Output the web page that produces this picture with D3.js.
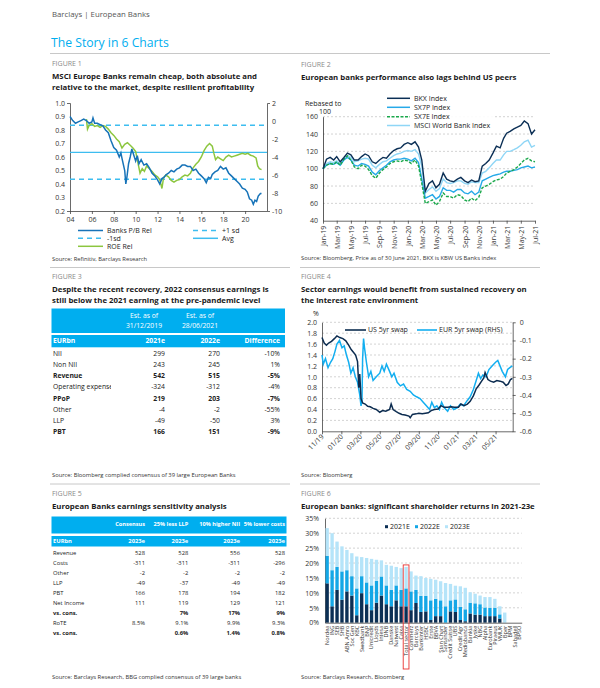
<!DOCTYPE html>
<html>
<head>
  <meta charset="utf-8">
  <title>Barclays | European Banks - The Story in 6 Charts</title>
  <script src="https://cdn.jsdelivr.net/npm/d3@7"></script>
  <style>
    body {margin: 0; background: #fff;}
    svg  {font-family: "Open Sans", Lato, "DejaVu Sans", sans-serif;}
  </style>
</head>
<body>
<svg id="page" width="600" height="688"></svg>
<script>
// ---------- Figure 1: MSCI Europe Banks P/B rel and ROE rel ----------
const pbYears = [2004.00,2004.25,2004.50,2004.75,2005.00,2005.25,2005.50,2005.75,2006.00,2006.10,2006.25,2006.50,2006.75,2007.00,2007.25,2007.50,2007.75,2008.00,2008.25,2008.50,2008.65,2008.75,2009.00,2009.10,2009.20,2009.35,2009.50,2009.65,2009.80,2010.00,2010.15,2010.30,2010.50,2010.75,2011.00,2011.25,2011.50,2011.75,2012.00,2012.20,2012.40,2012.60,2012.80,2013.00,2013.25,2013.50,2013.75,2014.00,2014.25,2014.50,2014.75,2015.00,2015.25,2015.50,2015.75,2016.00,2016.25,2016.45,2016.65,2016.85,2017.00,2017.25,2017.50,2017.75,2018.00,2018.25,2018.50,2018.75,2019.00,2019.25,2019.50,2019.75,2020.00,2020.20,2020.40,2020.60,2020.75,2020.90,2021.05,2021.20,2021.40,2021.50];
const pbRel   = [0.90,0.87,0.85,0.86,0.87,0.88,0.87,0.85,0.86,0.89,0.85,0.85,0.84,0.83,0.80,0.78,0.72,0.67,0.65,0.60,0.63,0.59,0.50,0.40,0.45,0.55,0.60,0.66,0.62,0.57,0.61,0.55,0.58,0.54,0.55,0.52,0.48,0.46,0.43,0.40,0.44,0.45,0.47,0.48,0.50,0.49,0.51,0.52,0.54,0.54,0.53,0.53,0.50,0.51,0.48,0.46,0.44,0.41,0.45,0.44,0.47,0.49,0.50,0.53,0.51,0.52,0.48,0.46,0.44,0.42,0.40,0.37,0.36,0.34,0.29,0.28,0.25,0.28,0.27,0.31,0.33,0.33];
const roeYears = [2005.50,2005.60,2005.75,2006.00,2006.25,2006.50,2006.75,2007.00,2007.25,2007.50,2007.75,2008.00,2008.25,2008.50,2008.75,2009.00,2009.25,2009.50,2009.75,2010.00,2010.20,2010.40,2010.60,2010.80,2011.00,2011.25,2011.50,2011.75,2012.00,2012.20,2012.40,2012.55,2012.75,2013.00,2013.25,2013.50,2013.75,2014.00,2014.25,2014.50,2014.75,2015.00,2015.25,2015.50,2015.75,2016.00,2016.25,2016.50,2016.75,2017.00,2017.15,2017.30,2017.50,2017.75,2018.00,2018.25,2018.50,2018.75,2019.00,2019.25,2019.50,2019.75,2020.00,2020.25,2020.50,2020.75,2021.00,2021.15,2021.30,2021.50];
const roeRel   = [0.2,-0.9,-0.5,-0.3,-0.6,-0.5,-0.7,-0.5,-0.6,-0.9,-1.3,-1.6,-2.0,-2.3,-3.0,-2.6,-2.4,-2.7,-3.0,-3.4,-4.6,-5.8,-5.3,-5.6,-5.0,-5.3,-5.6,-6.0,-6.2,-6.5,-7.5,-6.3,-6.0,-6.2,-6.6,-6.8,-6.6,-6.5,-6.2,-6.0,-6.1,-5.8,-5.2,-4.8,-4.5,-4.0,-3.3,-2.8,-2.5,-2.8,-3.6,-4.3,-4.0,-4.2,-4.4,-4.0,-3.8,-4.0,-3.9,-3.8,-3.7,-3.6,-3.7,-3.6,-3.8,-3.9,-4.1,-5.0,-5.3,-5.4];
const pbAvg = 0.635;
const pbSd = 0.2;

// ---------- Figure 2: performance rebased to 100 (twice-monthly) ----------
const bkx    = [100,111,113,110,114,108,113,118,116,110,110,114,117,115,108,106,110,113,112,117,121,123,124,128,130,128,131,125,110,74,83,86,78,82,95,88,86,85,88,90,86,84,87,85,86,103,106,110,118,126,124,135,141,143,146,148,150,155,152,140,145];
const sx7p   = [100,104,106,105,107,104,110,113,110,104,103,106,105,103,96,93,98,101,104,108,110,111,111,112,111,109,112,107,88,66,68,70,65,68,78,75,75,73,76,76,72,71,74,70,73,86,88,90,92,93,94,96,97,97,98,99,101,102,103,101,102];
const sx7e   = [100,104,106,105,108,104,111,115,110,102,100,104,103,99,92,89,95,99,102,106,108,109,108,110,109,106,110,103,83,60,62,64,58,62,72,68,68,66,70,69,64,62,66,63,67,78,80,82,85,87,88,91,95,97,99,102,106,110,112,109,108];
const msciWb = [100,106,108,107,109,106,111,115,113,108,109,111,112,111,104,101,105,108,109,112,115,117,118,120,121,120,122,117,103,72,76,79,74,77,88,84,83,84,86,86,83,82,85,84,84,95,97,101,106,110,110,116,120,120,122,124,127,131,133,125,127];
const fig2Series = ["BKX Index", "SX7P Index", "SX7E Index", "MSCI World Bank Index"];

// ---------- Figure 3: consensus earnings ----------
const t3Rows  = ["NII", "Non NII", "Revenue", "Operating expense", "PPoP", "Other", "LLP", "PBT"];
const t3E2021 = [299, 243, 542, -324, 219, -4, -49, 166];
const t3E2022 = [270, 245, 515, -312, 203, -2, -50, 151];
const t3Diff  = [-10, 1, -5, -4, -7, -55, 3, -9];
const t3Bold  = ["Revenue", "PPoP", "PBT"];

// ---------- Figure 4: swap rates ----------
const usSwap = [["2019-11-01",1.72],["2019-11-08",1.62],["2019-11-15",1.58],["2019-11-22",1.62],["2019-12-01",1.65],["2019-12-10",1.70],["2019-12-18",1.75],["2019-12-27",1.72],["2020-01-06",1.70],["2020-01-15",1.66],["2020-01-24",1.58],["2020-02-01",1.50],["2020-02-08",1.45],["2020-02-15",1.40],["2020-02-21",1.28],["2020-02-25",0.80],["2020-02-28",1.05],["2020-03-03",0.60],["2020-03-08",0.52],["2020-03-16",0.50],["2020-03-24",0.46],["2020-04-01",0.45],["2020-04-10",0.42],["2020-04-20",0.40],["2020-05-01",0.35],["2020-05-10",0.38],["2020-05-20",0.37],["2020-06-01",0.40],["2020-06-06",0.50],["2020-06-12",0.40],["2020-06-22",0.36],["2020-07-01",0.33],["2020-07-10",0.31],["2020-07-20",0.30],["2020-08-01",0.28],["2020-08-05",0.25],["2020-08-12",0.31],["2020-08-24",0.32],["2020-09-01",0.33],["2020-09-12",0.32],["2020-09-22",0.33],["2020-10-01",0.34],["2020-10-10",0.38],["2020-10-20",0.40],["2020-11-01",0.41],["2020-11-10",0.47],["2020-11-20",0.44],["2020-12-01",0.44],["2020-12-12",0.45],["2020-12-22",0.44],["2021-01-04",0.44],["2021-01-12",0.50],["2021-01-22",0.47],["2021-02-01",0.50],["2021-02-10",0.55],["2021-02-20",0.65],["2021-03-01",0.78],["2021-03-10",0.85],["2021-03-18",0.92],["2021-03-25",0.98],["2021-03-29",1.08],["2021-04-07",0.95],["2021-04-15",0.92],["2021-04-25",0.90],["2021-05-05",0.93],["2021-05-15",0.92],["2021-05-25",0.90],["2021-06-03",0.84],["2021-06-10",0.87],["2021-06-17",0.95],["2021-06-23",0.97]];
const eurSwap = [["2019-11-01",-0.18],["2019-11-05",-0.23],["2019-11-12",-0.20],["2019-11-20",-0.25],["2019-11-28",-0.22],["2019-12-05",-0.20],["2019-12-12",-0.16],["2019-12-18",-0.12],["2019-12-26",-0.10],["2020-01-03",-0.14],["2020-01-10",-0.13],["2020-01-17",-0.18],["2020-01-24",-0.22],["2020-01-31",-0.28],["2020-02-07",-0.25],["2020-02-14",-0.30],["2020-02-21",-0.33],["2020-02-28",-0.40],["2020-03-03",-0.46],["2020-03-06",-0.43],["2020-03-08",-0.20],["2020-03-11",-0.09],["2020-03-14",-0.14],["2020-03-20",-0.22],["2020-03-27",-0.30],["2020-04-03",-0.27],["2020-04-10",-0.32],["2020-04-20",-0.30],["2020-05-01",-0.28],["2020-05-08",-0.24],["2020-05-15",-0.27],["2020-05-22",-0.23],["2020-06-01",-0.27],["2020-06-08",-0.30],["2020-06-15",-0.28],["2020-06-25",-0.33],["2020-07-05",-0.35],["2020-07-15",-0.34],["2020-07-25",-0.37],["2020-08-05",-0.38],["2020-08-15",-0.40],["2020-08-25",-0.41],["2020-09-05",-0.42],["2020-09-15",-0.44],["2020-09-25",-0.46],["2020-10-05",-0.48],["2020-10-12",-0.44],["2020-10-20",-0.47],["2020-10-28",-0.46],["2020-11-05",-0.48],["2020-11-12",-0.44],["2020-11-20",-0.47],["2020-12-01",-0.49],["2020-12-10",-0.46],["2020-12-20",-0.48],["2021-01-01",-0.47],["2021-01-10",-0.45],["2021-01-20",-0.46],["2021-02-01",-0.43],["2021-02-10",-0.41],["2021-02-20",-0.37],["2021-03-01",-0.32],["2021-03-08",-0.28],["2021-03-15",-0.31],["2021-03-22",-0.29],["2021-04-01",-0.30],["2021-04-10",-0.26],["2021-04-20",-0.24],["2021-05-01",-0.22],["2021-05-08",-0.21],["2021-05-15",-0.24],["2021-05-22",-0.27],["2021-06-01",-0.30],["2021-06-08",-0.26],["2021-06-15",-0.25],["2021-06-23",-0.24]];

// ---------- Figure 5: sensitivity table ----------
const t5Rows   = ["Revenue", "Costs", "Other", "LLP", "PBT", "Net Income", "vs. cons.", "RoTE", "vs. cons."];
const t5Heads  = ["Consensus", "25% less LLP", "10% higher NII", "5% lower costs"];
const t5Cons   = ["528", "-311", "-2", "-49", "166", "111", "", "8.5%", ""];
const t5Llp    = ["528", "-311", "-2", "-37", "178", "119", "7%", "9.1%", "0.6%"];
const t5Nii    = ["556", "-311", "-2", "-49", "194", "129", "17%", "9.9%", "1.4%"];
const t5Costs  = ["528", "-296", "-2", "-49", "182", "121", "9%", "9.3%", "0.8%"];

// ---------- Figure 6: shareholder returns ----------
const banks = ["Nordea","ING","SEB","SHB","ABN Amro","Soc Gen","KBC","Swedbank","BNP","Unicredit","Lloyds","Intesa","DNB","Danske","Natwest","Caixa","Total sector","Commerz","Barclays","Bankinter","HSBC","Erste","BBVA","Stan Chart","Santander","Credit Suisse","UBS","Credit Agr","Mediobanca","Bankia","Jyske","NBG","Alpha","Eurobank","Piraeus","VMUK","Bper","BPM","Sabadell","BPSO"];
const ret2021 = [13.2,5.5,11.0,7.7,10.5,9.1,2.5,9.9,6.2,4.2,6.7,9.1,6.2,5.5,7.5,5.5,5.5,4.2,6.6,3.6,3.8,0.9,2.2,2.2,0,3.8,3.6,0.9,0.5,3.1,2.7,2.7,2.2,2.2,2.2,1.4,0,0,0,0];
const ret2022 = [9.2,12.1,7.7,9.5,7.1,6.5,9.0,5.7,7.3,8.3,7.3,6.4,6.3,5.5,5.0,5.5,6.0,6.3,4.4,5.4,5.2,6.6,5.8,5.3,5.5,3.7,4.2,4.4,4.0,3.6,3.8,3.5,2.9,2.8,2.8,1.4,0,0,0,0];
const ret2023 = [9.3,12.4,8.5,8.4,6.8,7.7,10.7,6.4,8.2,8.9,7.1,5.4,6.9,8.1,6.2,7.3,7.2,6.7,4.8,6.6,6.0,7.2,6.4,6.4,7.8,5.5,4.6,6.9,7.2,3.5,3.2,2.9,3.5,3.6,3.0,2.7,3.4,0,0,0];

// ---------- page ----------
const BLUE = "#00aeef", NAVY = "#0b2f55";
const svg = d3.select("#page");
svg.append("rect").attr("width", 600).attr("height", 688).attr("fill", "#fff");

function text(g, x, y, s, o = {}) {
  return g.append("text")
    .attr("x", x).attr("y", y)
    .attr("dy", "0.35em")
    .attr("font-size", o.size || 7)
    .attr("fill", o.fill || "#222")
    .attr("font-weight", o.bold ? "bold" : null)
    .attr("text-anchor", o.anchor || "start")
    .text(s);
}
function hline(g, x1, x2, y, color, width, dash) {
  return g.append("line").attr("x1", x1).attr("x2", x2).attr("y1", y).attr("y2", y)
    .attr("stroke", color).attr("stroke-width", width || 1)
    .attr("stroke-dasharray", dash || null);
}
function styleAxis(g, size) {
  g.attr("font-family", null).attr("font-size", size || 7);
  g.selectAll("text").attr("fill", "#333");
  g.selectAll("line, path").attr("stroke", "#444").attr("stroke-width", 0.8);
  return g;
}
function figHead(x, y, num, lines) {
  text(svg, x, y, "FIGURE " + num, {size: 7, fill: "#8a8a8a"});
  lines.forEach((l, i) => text(svg, x, y + 12.5 + i * 11, l, {size: 7.8, bold: true, fill: "#1a1a1a"}));
}
function source(x, y, s) { text(svg, x, y, s, {size: 5.8, fill: "#333"}); }
const hyph = d => String(d).replace("\u2212", "-");

// header
text(svg, 52, 14.5, "Barclays | European Banks", {size: 7.8, fill: "#555"});
text(svg, 51, 42.5, "The Story in 6 Charts", {size: 12.2, fill: BLUE});
hline(svg, 50, 550, 53.5, "#c8c8c8", 1);

// dividers
hline(svg, 50, 290, 267.5, "#c8c8c8", 1);
hline(svg, 300, 540, 267.5, "#c8c8c8", 1);
hline(svg, 50, 290, 484, "#c8c8c8", 1);
hline(svg, 300, 540, 484, "#c8c8c8", 1);

// ================= FIGURE 1 =================
figHead(52, 63.5, 1, ["MSCI Europe Banks remain cheap, both absolute and",
                      "relative to the market, despite resilient profitability"]);
{
  const x = d3.scaleLinear().domain([2004, 2022]).range([70, 267]);
  const y = d3.scaleLinear().domain([0.2, 1.0]).range([211, 103]);
  const yr = d3.scaleLinear().domain([-10, 2]).range([211, 103]);

  styleAxis(svg.append("g").attr("transform", "translate(70,0)")
    .call(d3.axisLeft(y).ticks(8).tickFormat(d3.format(".1f")).tickSizeInner(0).tickSizeOuter(3).tickPadding(5)));
  styleAxis(svg.append("g").attr("transform", "translate(267,0)")
    .call(d3.axisRight(yr).ticks(6).tickFormat(d => hyph(d)).tickSizeInner(0).tickSizeOuter(3).tickPadding(5)));
  styleAxis(svg.append("g").attr("transform", "translate(0,211)")
    .call(d3.axisBottom(x).tickValues(d3.range(2004, 2021, 2)).tickFormat(d => String(d).slice(2)).tickSizeInner(3).tickSizeOuter(0).tickPadding(3)));

  const lb = "#3dbdf0";
  hline(svg, 70, 267, y(pbAvg + pbSd), lb, 1.4, "5,4");
  hline(svg, 70, 267, y(pbAvg - pbSd), lb, 1.4, "5,4");
  hline(svg, 70, 267, y(pbAvg), lb, 1.2);

  svg.append("path").datum(roeYears.map((t, i) => [t, roeRel[i]]))
    .attr("d", d3.line().x(d => x(d[0])).y(d => yr(d[1])))
    .attr("fill", "none").attr("stroke", "#8cc63f").attr("stroke-width", 1.5);
  svg.append("path").datum(pbYears.map((t, i) => [t, pbRel[i]]))
    .attr("d", d3.line().x(d => x(d[0])).y(d => y(d[1])))
    .attr("fill", "none").attr("stroke", "#1773b8").attr("stroke-width", 1.5);

  // legend
  const lg = [["Banks P/B Rel", 78, 230.5, "#1773b8", null],
              ["+1 sd", 193, 230.5, lb, "5,4"],
              ["-1sd", 78, 238.3, lb, "5,4"],
              ["Avg", 193, 238.3, lb, null],
              ["ROE Rel", 78, 246.3, "#8cc63f", null]];
  lg.forEach(l => {
    hline(svg, l[1], l[1] + 25, l[2], l[3], 1.5, l[4]);
    text(svg, l[1] + 29, l[2], l[0], {size: 7});
  });
  source(52, 259.3, "Source: Refinitiv, Barclays Research");
}

// ================= FIGURE 2 =================
figHead(301, 64.5, 2, ["European banks performance also lags behind US peers"]);
{
  const dates = d3.range(bkx.length).map(i => new Date(2019, Math.floor(i / 2), i % 2 ? 16 : 1));
  const x = d3.scaleTime().domain([new Date(2019, 0, 1), new Date(2021, 6, 1)]).range([323, 535]);
  const y = d3.scaleLinear().domain([40, 160]).range([220.7, 116.7]);

  d3.range(60, 161, 20).forEach(v => hline(svg, 323, 535, y(v), "#b5b5b5", 0.6, "2,2"));
  const ya = styleAxis(svg.append("g").attr("transform", "translate(323,0)")
    .call(d3.axisLeft(y).tickValues(d3.range(40, 161, 20)).tickSize(0).tickPadding(5)));
  ya.select(".domain").attr("stroke", "#333");
  const xa = styleAxis(svg.append("g").attr("transform", "translate(0,220.7)")
    .call(d3.axisBottom(x).ticks(d3.timeMonth.every(2)).tickFormat(d3.timeFormat("%b-%y")).tickSizeInner(3).tickSizeOuter(0)));
  xa.selectAll("text").attr("transform", "rotate(-90)").attr("text-anchor", "end")
    .attr("x", -5).attr("y", 0).attr("dy", "0.35em");

  text(svg, 305, 103.3, "Rebased to", {size: 7});
  text(svg, 319, 111.7, "100", {size: 7});

  const cols = {"BKX Index": NAVY, "SX7P Index": "#26a9e8", "SX7E Index": "#1aa84b", "MSCI World Bank Index": "#8fd6f6"};
  const vals = {"BKX Index": bkx, "SX7P Index": sx7p, "SX7E Index": sx7e, "MSCI World Bank Index": msciWb};
  const line = d3.line().x((d, i) => x(dates[i])).y(d => y(d));
  ["MSCI World Bank Index", "SX7P Index", "SX7E Index", "BKX Index"].forEach(k => {
    svg.append("path").datum(vals[k]).attr("d", line).attr("fill", "none")
      .attr("stroke", cols[k]).attr("stroke-width", 1.4)
      .attr("stroke-dasharray", k === "SX7E Index" ? "3,1.5" : null);
  });
  const ly = [98.3, 107.3, 116.7, 125.5];
  fig2Series.forEach((k, i) => {
    svg.append("rect").attr("x", 385).attr("y", ly[i] - 4).attr("width", 110).attr("height", 8).attr("fill", "#fff").attr("opacity", i < 2 ? 0 : 0.9);
    hline(svg, 387, 410, ly[i], cols[k], 1.5, k === "SX7E Index" ? "3,1.5" : null);
    text(svg, 414, ly[i], k, {size: 7});
  });
  source(301, 258.3, "Source: Bloomberg, Price as of 30 June 2021, BKX is KBW US Banks index");
}

// ================= FIGURE 3 =================
figHead(52, 276.7, 3, ["Despite the recent recovery, 2022 consensus earnings is",
                       "still below the 2021 earning at the pre-pandemic level"]);
{
  const g = svg.append("g");
  g.append("rect").attr("x", 51.5).attr("y", 308.5).attr("width", 233.5).attr("height", 24.5).attr("fill", BLUE);
  g.append("rect").attr("x", 51.5).attr("y", 335).attr("width", 233.5).attr("height", 12.3).attr("fill", BLUE);
  const colR = [165, 220, 280];
  text(g, 144, 315.5, "Est. as of", {size: 6.8, fill: "#fff", anchor: "middle"});
  text(g, 144, 325.5, "31/12/2019", {size: 6.8, fill: "#fff", anchor: "middle"});
  text(g, 200, 315.5, "Est. as of", {size: 6.8, fill: "#fff", anchor: "middle"});
  text(g, 200, 325.5, "28/06/2021", {size: 6.8, fill: "#fff", anchor: "middle"});
  text(g, 53, 341, "EURbn", {size: 6.8, fill: "#fff", bold: true});
  text(g, colR[0], 341, "2021e", {size: 6.8, fill: "#fff", bold: true, anchor: "end"});
  text(g, colR[1], 341, "2022e", {size: 6.8, fill: "#fff", bold: true, anchor: "end"});
  text(g, colR[2], 341, "Difference", {size: 6.8, fill: "#fff", bold: true, anchor: "end"});

  svg.append("clipPath").attr("id", "c3").append("rect").attr("x", 50).attr("y", 340).attr("width", 61).attr("height", 100);
  t3Rows.forEach((r, i) => {
    const yy = 353.5 + i * 11.17;
    const b = t3Bold.includes(r);
    text(g, 53, yy, r, {size: 6.8, bold: b}).attr("clip-path", "url(#c3)");
    text(g, colR[0], yy, String(t3E2021[i]), {size: 6.8, bold: b, anchor: "end"});
    text(g, colR[1], yy, String(t3E2022[i]), {size: 6.8, bold: b, anchor: "end"});
    text(g, colR[2], yy, t3Diff[i] + "%", {size: 6.8, bold: b, anchor: "end"});
  });
  source(52, 475, "Source: Bloomberg complied consensus of 39 large European Banks");
}

// ================= FIGURE 4 =================
figHead(301, 276.7, 4, ["Sector earnings would benefit from sustained recovery on",
                        "the interest rate environment"]);
{
  const parse = d3.timeParse("%Y-%m-%d");
  const x = d3.scaleTime().domain([new Date(2019, 10, 1), new Date(2021, 5, 24)]).range([322, 512.7]);
  const y = d3.scaleLinear().domain([0, 2]).range([431.3, 322.3]);
  const yr = d3.scaleLinear().domain([-0.6, 0]).range([431.3, 322.3]);

  d3.range(1, 11).forEach(i => hline(svg, 322, 512.7, y(i / 5), "#b5b5b5", 0.6, "2,2"));
  styleAxis(svg.append("g").attr("transform", "translate(322,0)")
    .call(d3.axisLeft(y).tickValues(d3.range(0, 11).map(i => i / 5)).tickFormat(d3.format(".1f")).tickSize(0).tickPadding(5)));
  styleAxis(svg.append("g").attr("transform", "translate(512.7,0)")
    .call(d3.axisRight(yr).tickValues(d3.range(0, 7).map(i => -i / 10)).tickFormat(d => d === 0 ? "0" : d.toFixed(1)).tickSizeInner(3).tickSizeOuter(0).tickPadding(4)));
  const xa = styleAxis(svg.append("g").attr("transform", "translate(0,431.3)")
    .call(d3.axisBottom(x).ticks(d3.timeMonth.every(2)).tickFormat(d3.timeFormat("%m/%y")).tickSizeInner(3).tickSizeOuter(0)));
  xa.selectAll("text").attr("transform", "rotate(-45)").attr("text-anchor", "end")
    .attr("x", -3).attr("y", 3).attr("dy", "0.35em");
  text(svg, 313, 313.3, "%", {size: 7});

  svg.append("path").datum(eurSwap).attr("fill", "none").attr("stroke", "#12aef0").attr("stroke-width", 1.5)
    .attr("d", d3.line().x(d => x(parse(d[0]))).y(d => yr(d[1])));
  svg.append("path").datum(usSwap).attr("fill", "none").attr("stroke", "#0c2c50").attr("stroke-width", 1.5)
    .attr("d", d3.line().x(d => x(parse(d[0]))).y(d => y(d[1])));

  hline(svg, 345, 366, 330, "#0c2c50", 1.6);
  text(svg, 368, 330, "US 5yr swap", {size: 7});
  hline(svg, 417, 437, 330, "#12aef0", 1.6);
  text(svg, 439, 330, "EUR 5yr swap (RHS)", {size: 7});
  source(301, 475, "Source: Bloomberg");
}

// ================= FIGURE 5 =================
figHead(52, 494, 5, ["European Banks earnings sensitivity analysis"]);
{
  const g = svg.append("g");
  g.append("rect").attr("x", 51.5).attr("y", 516.5).attr("width", 235).attr("height", 17).attr("fill", BLUE);
  g.append("rect").attr("x", 51.5).attr("y", 536).attr("width", 235).attr("height", 10.5).attr("fill", BLUE);
  const colR = [145, 188.3, 240, 285];
  t5Heads.forEach((h, i) => text(g, colR[i], 524, h, {size: 5.6, fill: "#fff", bold: true, anchor: "end"}));
  text(g, 53, 541.2, "EURbn", {size: 5.8, fill: "#fff", bold: true});
  colR.forEach(c => text(g, c, 541.2, "2023e", {size: 5.8, fill: "#fff", bold: true, anchor: "end"}));
  const cols = [t5Cons, t5Llp, t5Nii, t5Costs];
  t5Rows.forEach((r, i) => {
    const yy = 552.5 + i * 10.05;
    const b = r === "vs. cons.";
    text(g, 53, yy, r, {size: 5.8, bold: b});
    cols.forEach((c, j) => text(g, colR[j], yy, c[i], {size: 5.8, bold: b, anchor: "end"}));
  });
  source(52, 676.7, "Source: Barclays Research, BBG complied consensus of 39 large banks");
}

// ================= FIGURE 6 =================
figHead(301, 494, 6, ["European banks: significant shareholder returns in 2021-23e"]);
{
  const x = d3.scaleBand().domain(banks).range([325, 521.7]).paddingInner(0.32).paddingOuter(0.1);
  const y = d3.scaleLinear().domain([0, 35]).range([622.7, 518.3]);
  d3.range(5, 36, 5).forEach(v => hline(svg, 325, 521.7, y(v), "#b5b5b5", 0.6, "2,2"));
  styleAxis(svg.append("g").attr("transform", "translate(325,0)")
    .call(d3.axisLeft(y).tickValues(d3.range(0, 36, 5)).tickFormat(d => d + "%").tickSize(0).tickPadding(6)));

  const rows = banks.map((b, i) => ({bank: b, "2021E": ret2021[i], "2022E": ret2022[i], "2023E": ret2023[i]}));
  const keys = ["2021E", "2022E", "2023E"];
  const cols = {"2021E": NAVY, "2022E": "#14a7e6", "2023E": "#b5e4f9"};
  const stack = d3.stack().keys(keys)(rows);
  svg.append("g").selectAll("g").data(stack).join("g").attr("fill", d => cols[d.key])
    .selectAll("rect").data(d => d).join("rect")
    .attr("x", d => x(d.data.bank)).attr("width", x.bandwidth())
    .attr("y", d => y(d[1])).attr("height", d => y(d[0]) - y(d[1]));

  const xa = styleAxis(svg.append("g").attr("transform", "translate(0,622.7)")
    .call(d3.axisBottom(x).tickSize(0).tickPadding(3)), 5.5);
  xa.selectAll("text").attr("transform", "rotate(-90)").attr("text-anchor", "end")
    .attr("x", -3).attr("y", 0).attr("dy", "0.35em");

  const ts = rows.find(r => r.bank === "Total sector");
  const tsTop = y(ts["2021E"] + ts["2022E"] + ts["2023E"]);
  svg.append("rect").attr("x", x("Total sector") - 1.2).attr("y", tsTop - 2)
    .attr("width", x.bandwidth() + 2.4).attr("height", 669 - tsTop + 2)
    .attr("fill", "none").attr("stroke", "#e8312f").attr("stroke-width", 0.9);

  keys.forEach((k, i) => {
    svg.append("rect").attr("x", 385 + i * 30).attr("y", 525.2).attr("width", 3).attr("height", 3).attr("fill", cols[k]);
    text(svg, 390 + i * 30, 526.7, k, {size: 7});
  });
  source(301, 676.7, "Source: Barclays Research, Bloomberg");
}
</script>
</body>
</html>
